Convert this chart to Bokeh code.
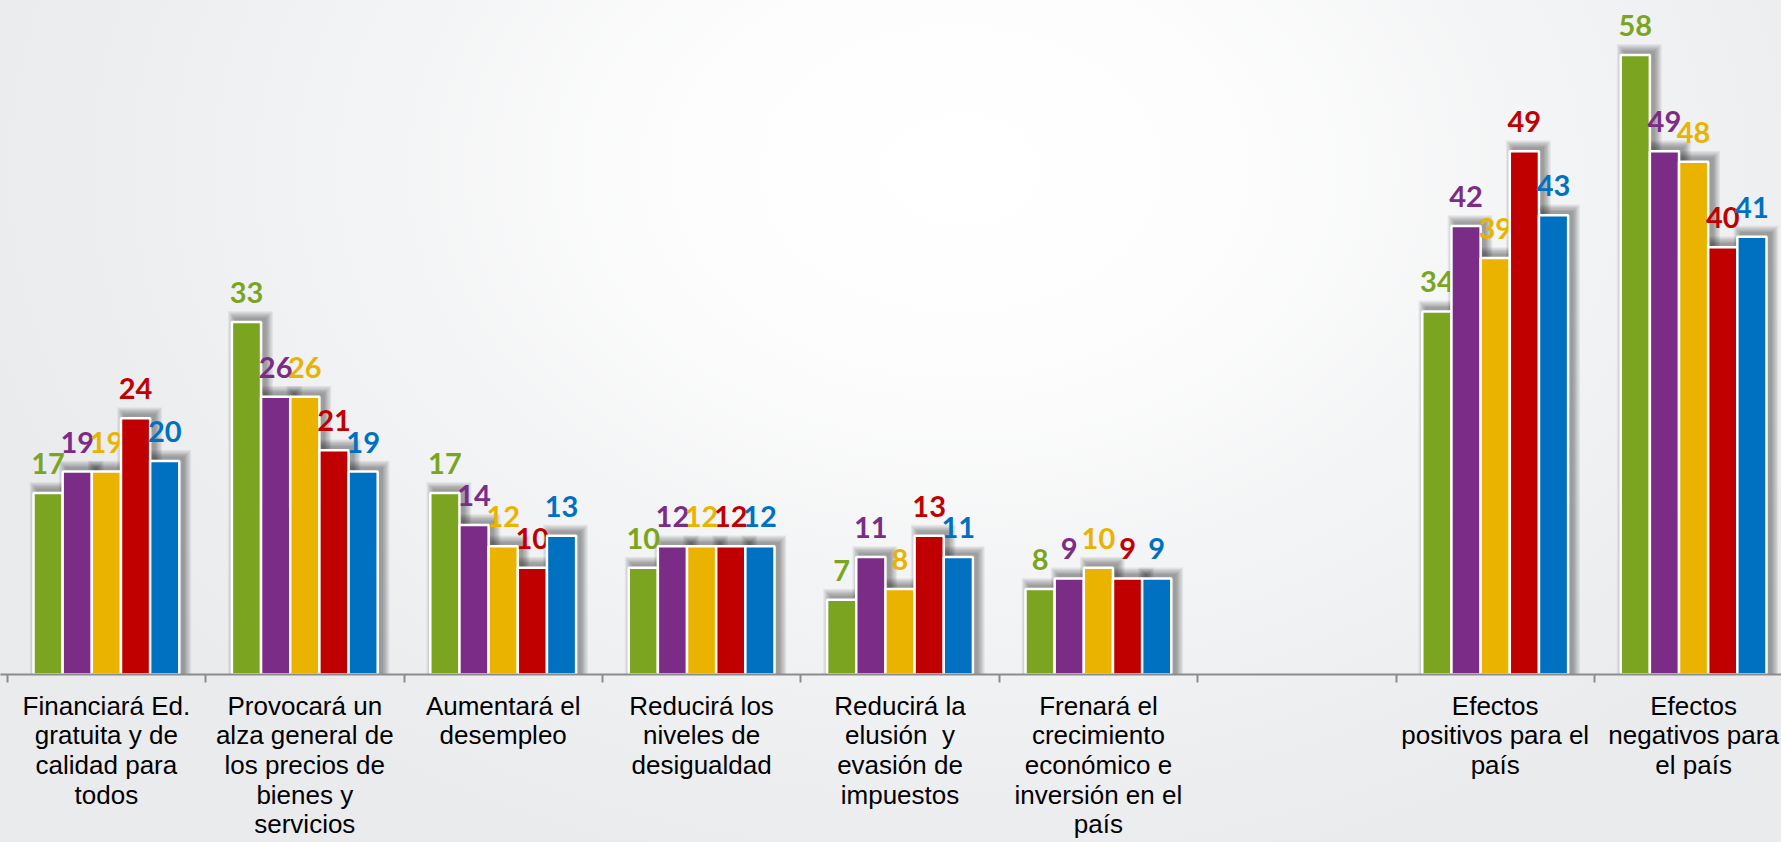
from bokeh.plotting import figure
from bokeh.models import FixedTicker, Range1d
from bokeh.core.properties import value
from bokeh.embed import file_html
from bokeh.resources import INLINE

# ---------------- data ----------------
categories = [
    "Financiará Ed.\ngratuita y de\ncalidad para\ntodos",
    "Provocará un\nalza general de\nlos precios de\nbienes y\nservicios",
    "Aumentará el\ndesempleo",
    "Reducirá los\nniveles de\ndesigualdad",
    "Reducirá la\nelusión\u00a0 y\nevasión de\nimpuestos",
    "Frenará el\ncrecimiento\neconómico e\ninversión en el\npaís",
    "",
    "Efectos\npositivos para el\npaís",
    "Efectos\nnegativos para\nel país",
]
serie_1 = [17, 33, 17, 10, 7, 8, None, 34, 58]
serie_2 = [19, 26, 14, 12, 11, 9, None, 42, 49]
serie_3 = [19, 26, 12, 12, 8, 10, None, 39, 48]
serie_4 = [24, 21, 10, 12, 13, 9, None, 49, 40]
serie_5 = [20, 19, 13, 12, 11, 9, None, 43, 41]
series = [serie_1, serie_2, serie_3, serie_4, serie_5]
colors = ["#7BA521", "#7B2C87", "#E9B300", "#C00000", "#0070C0"]

# ---------------- layout constants ----------------
PX_X = 1 / 198.4      # data units per pixel (x)
PX_Y = 1 / 10.68      # data units per pixel (y)
BAR_W = 0.147
offsets = [-2 * BAR_W, -BAR_W, 0.0, BAR_W, 2 * BAR_W]

p = figure(
    width=1781, height=842,
    frame_width=1781, frame_height=674,
    x_range=Range1d(-0.0338, 8.943),
    y_range=Range1d(0, 63.11),
    output_backend="svg", toolbar_location=None,
    y_axis_location=None,
    min_border=0, min_border_bottom=168,
)
p.background_fill_color = None
p.border_fill_color = None
p.outline_line_color = None
p.xgrid.visible = False
p.ygrid.visible = False
p.styles = {
    "background": "radial-gradient(ellipse 1000px 720px at 960px 170px, "
                  "#ffffff 0%, #fdfdfd 28%, #f3f4f5 58%, #eaebed 100%)",
}

ax = p.xaxis[0]
ax.ticker = FixedTicker(ticks=[i + 0.5 for i in range(len(categories))],
                        minor_ticks=list(range(len(categories) + 1)))
ax.major_label_overrides = {i + 0.5: (c if c else " ") for i, c in enumerate(categories)}
ax.axis_line_color = "#8C8C8C"
ax.axis_line_width = 2
ax.major_tick_line_color = None
ax.major_tick_out = 0
ax.major_tick_in = 0
ax.minor_tick_line_color = "#8C8C8C"
ax.minor_tick_line_width = 2
ax.minor_tick_out = 8
ax.minor_tick_in = 0
ax.major_label_text_font = "Liberation Sans"
ax.major_label_text_font_size = "26px"
ax.major_label_text_color = "#000000"
ax.major_label_text_line_height = 0.99
ax.major_label_standoff = 8

# ---------------- shadows ----------------
dx = 4 * PX_X
dy = 3 * PX_Y
for s, off in zip(series, offsets):
    xs = [i + 0.5 + off for i, v in enumerate(s) if v is not None]
    tops = [v for v in s if v is not None]
    for j in range(1, 7):
        e = j * 1.3
        p.quad(left=[x - BAR_W / 2 - e * PX_X + dx for x in xs],
               right=[x + BAR_W / 2 + e * PX_X + dx for x in xs],
               top=[t + e * PX_Y + dy for t in tops],
               bottom=[0] * len(xs),
               fill_color="#000000", fill_alpha=0.065, line_color=None)

# ---------------- bars & labels ----------------
for s, off, c in zip(series, offsets, colors):
    xs = [i + 0.5 + off for i, v in enumerate(s) if v is not None]
    tops = [v for v in s if v is not None]
    p.vbar(x=xs, top=tops, bottom=0, width=BAR_W,
           fill_color=c, line_color="white", line_width=2.5)
    p.text(x=xs, y=tops, text=[str(v) for v in tops],
           text_align="center", text_baseline="alphabetic", y_offset=-29.5,
           text_font=value("Lato"), text_font_style="bold",
           text_font_size="29px", text_color=c)

open("out.html", "w").write(file_html(p, INLINE))
